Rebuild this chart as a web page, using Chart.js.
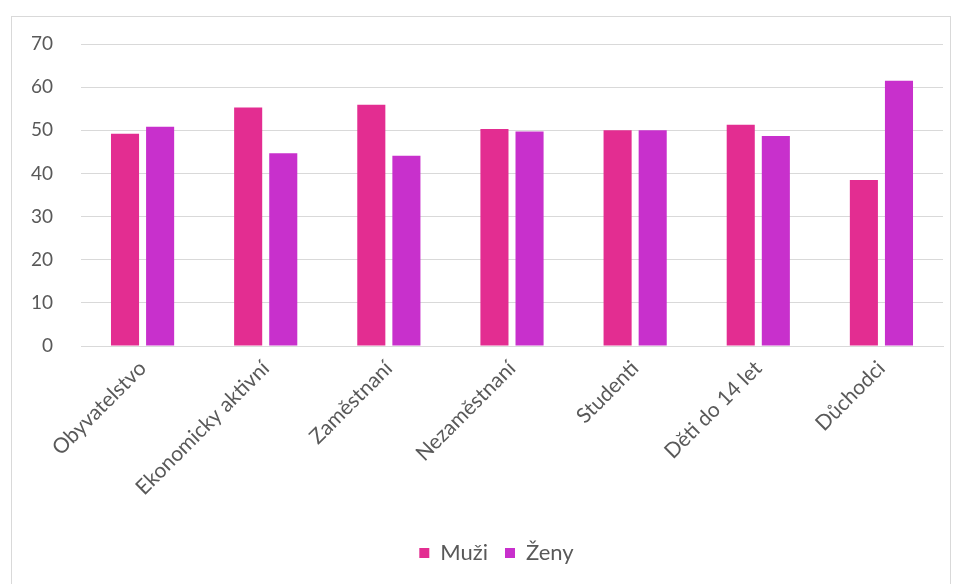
<!DOCTYPE html>
<html><head><meta charset="utf-8">
<script src="https://cdn.jsdelivr.net/npm/chart.js@4"></script>
<style>html,body{margin:0;padding:0;background:#fff}#wrap{position:absolute;left:0;top:0;width:957px;height:584px}</style>
</head><body><div id="wrap"><canvas id="c" width="957" height="584"></canvas></div>
<script>
const categories = ["Obyvatelstvo","Ekonomicky aktivní","Zaměstnaní","Nezaměstnaní","Studenti","Děti do 14 let","Důchodci"];
const muzi = [49.2, 55.3, 55.9, 50.3, 50.0, 51.3, 38.5];
const zeny = [50.8, 44.7, 44.1, 49.7, 50.0, 48.7, 61.5];
const yTicks = [0,10,20,30,40,50,60,70];
const FONT = "Lato";
const frame = {id:'frame',
  afterLayout(ch){ if(ch.legend){ ch.legend.left += 25; ch.legend.right += 25; } },
  beforeDraw(ch){const c=ch.ctx;c.save();c.fillStyle='#fff';c.fillRect(0,0,ch.width,ch.height);c.strokeStyle='#d9d9d9';c.lineWidth=1;c.strokeRect(11.5,16.5,939,600);c.restore();}};
new Chart(document.getElementById('c'),{
  type:'bar',
  data:{labels:categories,datasets:[
    {label:'Muži',data:muzi,backgroundColor:'#E32D91',categoryPercentage:0.57,barPercentage:0.8},
    {label:'Ženy',data:zeny,backgroundColor:'#C830CC',categoryPercentage:0.57,barPercentage:0.8}
  ]},
  options:{responsive:false,animation:false,
    layout:{padding:{left:0,right:14,top:44,bottom:10}},
    plugins:{legend:{position:'bottom',labels:{boxWidth:10,boxHeight:10,padding:17,color:'#595959',font:{family:FONT,size:22}}},tooltip:{enabled:false}},
    scales:{
      x:{grid:{display:false},border:{color:'#d9d9d9'},
        ticks:{color:'#595959',font:{family:FONT,size:21},minRotation:45,maxRotation:45,padding:2},
        afterFit(a){a.height=179;}},
      y:{min:0,max:70,afterBuildTicks(a){a.ticks=yTicks.map(v=>({value:v}));},
        grid:{color:'#d9d9d9',drawTicks:false},border:{display:false},
        ticks:{color:'#595959',font:{family:FONT,size:19},padding:28},
        afterFit(a){a.width=81;}}
    }
  },
  plugins:[frame]
});
</script></body></html>
